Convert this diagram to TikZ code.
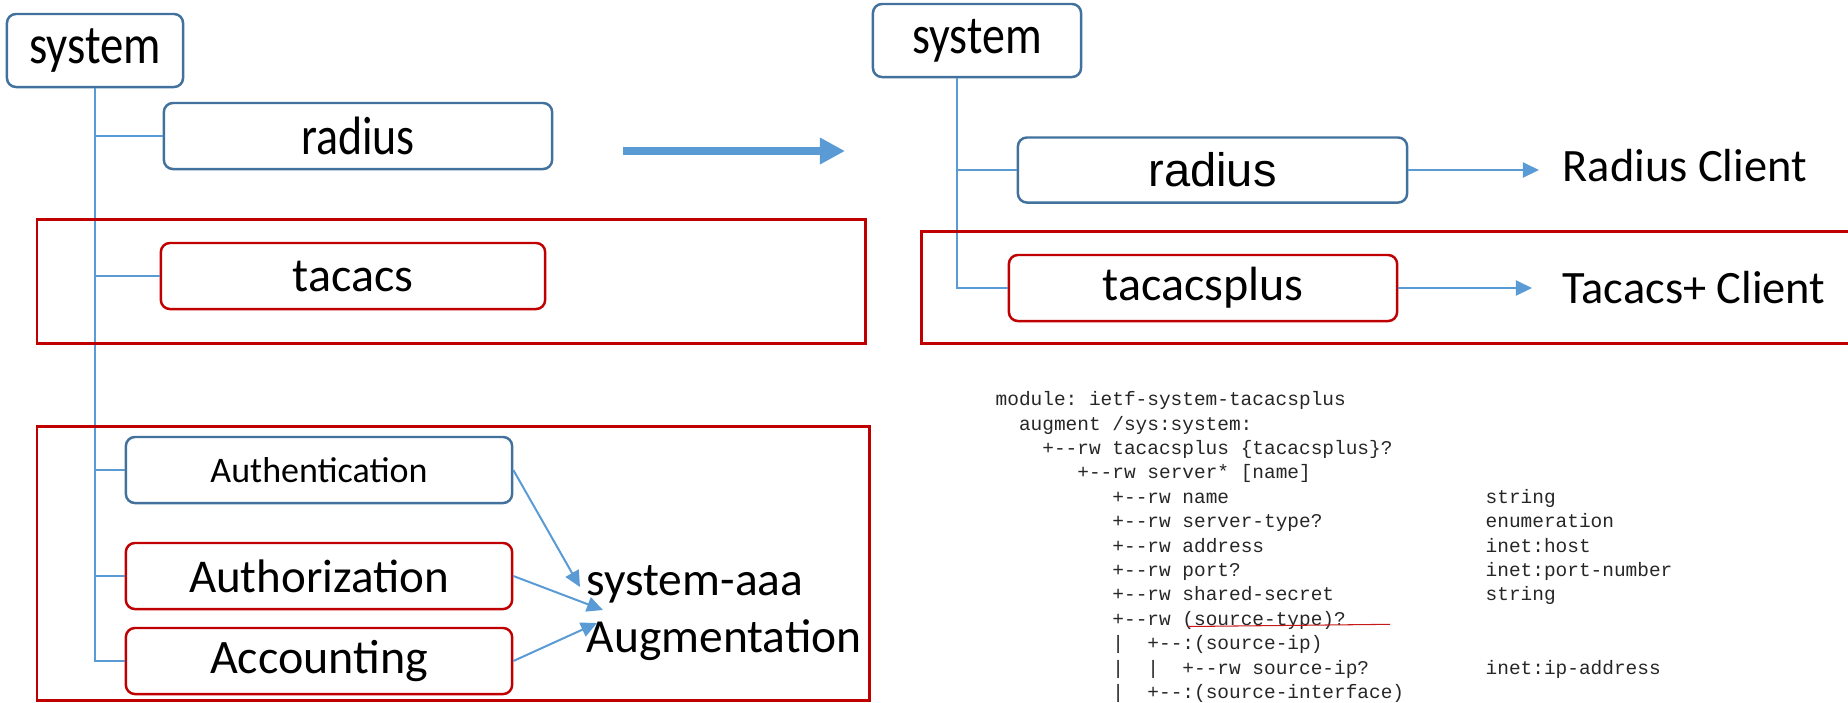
\documentclass[tikz,border=0pt]{standalone}
\usepackage{fontspec}
\setmainfont{Carlito}
\newfontfamily\narrowfont[FakeStretch=0.85]{Carlito}
\newfontfamily\arialfont{Liberation Sans}
\newfontfamily\codefont[Ligatures=TeXOff]{Liberation Mono}
\usetikzlibrary{arrows.meta}

\definecolor{boxblue}{HTML}{41719C}
\definecolor{boxred}{HTML}{C00000}
\definecolor{linkblue}{HTML}{5B9BD5}

\tikzset{
  blubox/.style={draw=boxblue, line width=0.7pt, rounded corners=0.09cm, fill=white,
    minimum width=3.86cm, minimum height=0.66cm, inner sep=0pt},
  redbox/.style={blubox, draw=boxred},
  tree/.style={draw=linkblue, line width=0.4pt},
  flow/.style={linkblue, line width=0.57pt, -{Triangle[length=0.16cm,width=0.15cm]}},
  redframe/.style={draw=boxred, line width=0.85pt},
  lbl/.style={anchor=base west, inner sep=0pt},
  code/.style={anchor=base west, inner sep=0pt, text=black!85,
    font=\codefont\frenchspacing\fontsize{5.53}{6.6}\selectfont}
}

\begin{document}
\begin{tikzpicture}[x=0.01cm, y=-0.01cm]
  \useasboundingbox (0,0) rectangle (1848,702);

  % old tree
  \node[blubox, minimum width=1.76cm, minimum height=0.73cm,
    font=\narrowfont\fontsize{15.65}{18}\selectfont] (sysL) at (95,50.5) {system};
  \node[blubox, minimum width=3.88cm, font=\narrowfont\fontsize{15.36}{18}\selectfont] (radL) at (358,136) {radius};
  \node[redbox, minimum width=3.84cm, font=\fontsize{13.66}{16}\selectfont] (tacL) at (353,276) {tacacs};
  \node[blubox, font=\fontsize{10.24}{12}\selectfont] (authN) at (319,470) {Authentication};
  \node[redbox, font=\fontsize{13.37}{16}\selectfont] (authZ) at (319,576) {Authorization};
  \node[redbox, font=\fontsize{13.66}{16}\selectfont] (acct) at (319,661) {Accounting};

  \foreach \kid in {radL,tacL,authN,authZ,acct}
    \draw[tree] (sysL.south) |- (\kid.west);

  % aaa goes to an augmentation
  \node[lbl, font=\fontsize{13.5}{16}\selectfont] (aaaT) at (586,595) {system-aaa};
  \node[lbl, font=\fontsize{13.5}{16}\selectfont] (aaaB) at (586,652) {Augmentation};
  \coordinate (tipN) at (580,587);
  \coordinate (tipZ) at (603,610);
  \coordinate (tipC) at (597,623);
  \draw[flow] (authN.east) -- (tipN);
  \draw[flow] (authZ.east) -- (tipZ);
  \draw[flow] (acct.east) -- (tipC);

  % refinement
  \coordinate (mapL) at (623,151);
  \coordinate (mapR) at (845,151);
  \draw[linkblue, line width=0.08cm, -{Triangle[length=0.25cm,width=0.25cm]}] (mapL) -- (mapR);

  % new tree
  \node[blubox, minimum width=2.08cm, minimum height=0.73cm,
    font=\narrowfont\fontsize{15.36}{18}\selectfont] (sysR) at (977,40.5) {system};
  \node[blubox, minimum width=3.89cm, minimum height=0.65cm,
    font=\arialfont\fontsize{13.37}{16}\selectfont] (radR) at (1212.5,170) {radius};
  \node[redbox, minimum width=3.88cm, font=\fontsize{13.66}{16}\selectfont] (tacR) at (1203,288) {tacacsplus};

  \draw[tree] ([xshift=-0.2cm]sysR.south) |- (radR.west);
  \draw[tree] ([xshift=-0.2cm]sysR.south) |- (tacR.west);

  \node[lbl, font=\fontsize{13.2}{16}\selectfont] (rcli) at (1562,181) {Radius Client};
  \node[lbl, font=\fontsize{13.2}{16}\selectfont] (tcli) at (1562,303) {Tacacs+ Client};
  \draw[flow, shorten >=0.23cm] (radR.east) -- (radR.east -| rcli.west);
  \draw[flow, shorten >=0.30cm] (tacR.east) -- (tacR.east -| tcli.west);

  % what changed
  \draw[redframe] (37,219) rectangle (865,343);
  \draw[redframe] (37,426) rectangle (869,700.5);
  \draw[redframe] (921,231) rectangle (1860,343);

  % yang tree of the module
  \foreach \row/\col/\txt in {
      0/0/{module: ietf-system-tacacsplus},
      1/2/{augment /sys:system:},
      2/4/{+--rw tacacsplus \{tacacsplus\}?},
      3/7/{+--rw server* [name]},
      4/10/{+--rw name},
      5/10/{+--rw server-type?},
      6/10/{+--rw address},
      7/10/{+--rw port?},
      8/10/{+--rw shared-secret},
      9/10/{+--rw (source-type)?},
      10/10/{|~~+--:(source-ip)},
      11/10/{|~~|~~+--rw source-ip?},
      12/10/{|~~+--:(source-interface)}}
    \node[code] (code\row) at ({995+\col*11.67},{405.7+\row*24.4}) {\txt};
  \foreach \row/\txt in {4/string, 5/enumeration, 6/inet:host,
      7/inet:port-number, 8/string, 11/inet:ip-address}
    \node[code] (type\row) at (1485,{405.7+\row*24.4}) {\txt};
  \draw[boxred!90, line width=0.3pt] (1188,626.5) -- (1390,624.3);
\end{tikzpicture}
\end{document}
